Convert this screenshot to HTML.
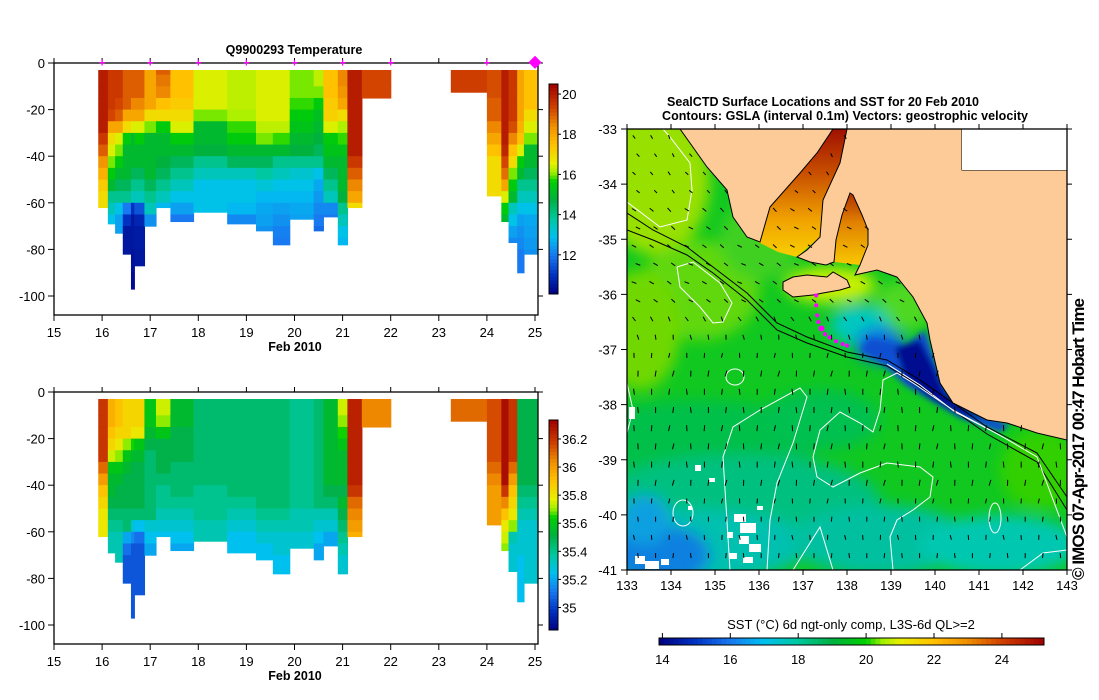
<!DOCTYPE html>
<html><head><meta charset="utf-8"><style>
html,body{margin:0;padding:0;background:#fff;}
svg{display:block;font-family:"Liberation Sans",sans-serif;}
.t{font-size:13px;fill:#000;}
.b{font-size:12.5px;font-weight:bold;fill:#000;}
</style></head><body>
<svg id="s" width="1099" height="700" viewBox="0 0 1099 700" xmlns="http://www.w3.org/2000/svg">
<defs>
<clipPath id="mapclip"><rect x="627" y="129" width="440" height="441"/></clipPath>
<filter id="blur" x="-20%" y="-20%" width="140%" height="140%"><feGaussianBlur stdDeviation="7"/></filter>
<filter id="blur2"><feGaussianBlur stdDeviation="3"/></filter>
<linearGradient id="spencer" x1="0" y1="0" x2="0" y2="1"><stop offset="0" stop-color="#a01000"/><stop offset="0.35" stop-color="#c85000"/><stop offset="0.7" stop-color="#f0a000"/><stop offset="1" stop-color="#f8d000"/></linearGradient>
<linearGradient id="gsv" x1="0" y1="0" x2="0" y2="1"><stop offset="0" stop-color="#b03000"/><stop offset="0.4" stop-color="#e08000"/><stop offset="1" stop-color="#f8c800"/></linearGradient>
</defs>
<g id="secT"></g>
<g id="secS"></g>
<g id="map"></g>
</svg>
<script>
const colStart = [15.92,16.12,16.27,16.43,16.6,16.67,16.88,17.12,17.42,17.9,18.6,19.2,19.55,19.9,20.4,20.6,20.9,21.1,21.4,23.25,24.0,24.3,24.45,24.63,24.77];
const colEnd   = [16.12,16.27,16.43,16.6,16.67,16.88,17.12,17.42,17.9,18.6,19.2,19.55,19.9,20.4,20.6,20.9,21.1,21.4,22.0,24.0,24.3,24.45,24.63,24.77,25.05];
const colBottom= [62,69,73,82,97,87,70,62,68,64,69,72,78,67,72,66,78,62,15,12.5,57,68,77,90,82];
const tempProfiles = [
[20,20,20,20,20,20,19.5,19,18.3,17.8,17.3,17,17],
[19.5,19.5,19.5,19.5,19.3,18,17,16.5,16,15.5,15,14,13.5,13],
[19.5,19.5,19.5,19.3,19,18,16.5,16,15.5,15,14.5,14,13,12.5,12.5],
[19,19,19,19,18,17,15.5,15,15,15,14.5,14,12,11,10.5,10.5,10.5],
[19,19,19,18.5,18,16.5,15,15,15,14.5,14,13.5,11,10.5,10.5,10.5,10.4,10.4,10.3,10.3],
[19,19,19,18.5,18,16.5,15.5,15,15,14.5,14,13.5,11.5,10.8,10.6,10.6,10.5,10.5],
[18,18,18,18,17,16,15,15,15,15,14.5,14,13.5,12.3],
[19,18.7,18.5,17.5,17,15.5,15,15,14.8,14.5,14,13.5,12.8],
[17.5,17.5,17.5,17.3,17,16.5,15.5,15,14.5,14,13.5,13,12.5,12],
[16.5,16.5,16.5,16.5,16,15,15,14.8,14,13.5,13,13,13],
[16.3,16.3,16.3,16.3,16.2,15.8,15.5,15,14.5,13.5,13,13,12.8,12.2],
[16.5,16.5,16.5,16.5,16.5,16.3,16,15,14.5,13.8,13.2,12.8,12.6,12.5,12.3],
[16.5,16.5,16.5,16.5,16.5,16.3,15.8,15,14,13.5,13,12.8,12.5,12.3,12.1,12],
[16,16,16,15.8,15.5,15.3,15,14.8,14,13.3,13,12.8,12.6,12.5],
[16.3,16.3,16,15.5,15.2,15,14.8,14.5,14,13,12.6,12.4,12.2,12,11.8],
[17.5,17.5,17.5,17.3,17.2,16.5,15.5,15.3,15,14.5,14,13.5,12.2,12],
[18.5,18.5,18.3,18,17,16.2,15.8,15.3,15,15,15,14.8,14,13.5,13,12.8],
[20,20,20,20,20,20,20,20,19.5,19,18.5,18,17],
[19.3,19.3,19.3],
[19.4,19.4,19.4],
[19.2,19.2,19.2,19,19,18.5,18,17.5,17,17,17,17],
[20,20,20,20,20,20,20,19.8,19.3,18.8,18,16.5,15.5,15],
[19.5,19.5,19.5,19.5,19.5,19.2,18.5,17.5,17,16,15.5,15,13.5,13,12.5,12.2],
[18,18,18,18,18,17.8,17.5,16.5,15.5,15,14,13.5,13,12.5,12.3,12.2,12,12],
[17.5,17.5,17.5,17.5,17,16.5,16,15,15,14.5,14,13.5,13,12.6,12.5,12.4,12.3]
];
const salProfiles = [
[36.2,36.2,36.2,36.2,36.2,36.2,36.1,36.0,35.9,35.85,35.8,35.8,35.8],
[35.95,35.95,35.95,35.9,35.85,35.75,35.6,35.55,35.55,35.5,35.45,35.4,35.35,35.35],
[35.9,35.9,35.9,35.85,35.8,35.7,35.6,35.55,35.5,35.5,35.45,35.4,35.35,35.35,35.35],
[35.85,35.85,35.85,35.85,35.7,35.6,35.55,35.5,35.5,35.5,35.45,35.45,35.2,35.1,35.05,35.05,35.05],
[35.85,35.85,35.85,35.8,35.65,35.55,35.5,35.5,35.5,35.5,35.45,35.3,35.15,35.05,35.05,35.05,35.05,35.05,35.05,35.05],
[35.85,35.85,35.85,35.8,35.6,35.55,35.5,35.5,35.5,35.5,35.45,35.25,35.1,35.05,35.05,35.05,35.05,35.05],
[35.6,35.6,35.6,35.55,35.5,35.45,35.45,35.45,35.45,35.45,35.45,35.3,35.25,35.2],
[35.75,35.75,35.7,35.6,35.5,35.5,35.5,35.45,35.4,35.4,35.35,35.3,35.25],
[35.55,35.55,35.55,35.5,35.5,35.5,35.45,35.45,35.45,35.4,35.35,35.3,35.25,35.2],
[35.45,35.45,35.45,35.45,35.45,35.45,35.45,35.45,35.4,35.4,35.4,35.35,35.35],
[35.45,35.45,35.45,35.45,35.45,35.45,35.45,35.45,35.45,35.4,35.35,35.3,35.25,35.25],
[35.45,35.45,35.45,35.45,35.45,35.45,35.45,35.45,35.45,35.45,35.4,35.35,35.3,35.25,35.25],
[35.45,35.45,35.45,35.45,35.45,35.45,35.45,35.45,35.45,35.45,35.4,35.35,35.3,35.3,35.25,35.25],
[35.4,35.4,35.4,35.4,35.4,35.4,35.4,35.4,35.4,35.4,35.35,35.35,35.3,35.3],
[35.45,35.45,35.45,35.45,35.45,35.45,35.45,35.45,35.45,35.45,35.35,35.3,35.25,35.2,35.2],
[35.55,35.55,35.55,35.55,35.55,35.55,35.55,35.55,35.5,35.45,35.35,35.3,35.2,35.2],
[35.75,35.75,35.7,35.65,35.6,35.55,35.55,35.55,35.5,35.55,35.5,35.45,35.4,35.35,35.3,35.3],
[36.25,36.25,36.25,36.25,36.25,36.25,36.25,36.25,36.2,36.1,36.05,36.0,35.95],
[36.05,36.05,36.05],
[36.1,36.1,36.1],
[36.15,36.15,36.15,36.15,36.15,36.15,36.1,36.05,36.0,36.0,36.0,36.0],
[36.3,36.3,36.3,36.3,36.3,36.3,36.3,36.3,36.2,36.05,35.9,35.8,35.75,35.7],
[36.2,36.2,36.2,36.2,36.2,36.2,36.1,36.0,35.9,35.85,35.8,35.7,35.35,35.3,35.3,35.3],
[35.5,35.5,35.5,35.5,35.5,35.5,35.5,35.5,35.45,35.4,35.35,35.3,35.3,35.3,35.25,35.25,35.25,35.25],
[35.5,35.5,35.5,35.5,35.5,35.5,35.5,35.5,35.45,35.4,35.35,35.3,35.3,35.3,35.3,35.3,35.3]
];
const dayTicks = [15,16,17,18,19,20,21,22,23,24,25];
const depthTicks = [0,20,40,60,80,100];
const profileDays = [16,17,18,19,20,21,22,24,25];
const tempTicks = [12,14,16,18,20];
const salTicks = [35,35.2,35.4,35.6,35.8,36,36.2];
const sstTicks = [14,16,18,20,22,24];
const lonTicks = [133,134,135,136,137,138,139,140,141,142,143];
const latTicks = [-33,-34,-35,-36,-37,-38,-39,-40,-41];
const trackLon = [137.3,137.3,137.32,137.35,137.42,137.5,137.6,137.75,137.9,138.0];
const trackLat = [-36.02,-36.2,-36.38,-36.5,-36.62,-36.72,-36.78,-36.85,-36.9,-36.93];
const vecRowAngle = [60,55,50,45,40,35,35,30,30,35,60,80,95,-80,-90,90,95,-85,90,100,95,90,85,90];
const vecRowLen   = [4,4,4,4,5,5,5,5,5,5,5,5,5,6,6,6,6,6,6,6,5,5,5,5];

const NS="http://www.w3.org/2000/svg";
function mk(tag,attrs,parent,txt){const e=document.createElementNS(NS,tag);for(const k in attrs)e.setAttribute(k,attrs[k]);if(txt!==undefined)e.textContent=txt;parent.appendChild(e);return e;}
const cmapStops=[[0,[0,0,128]],[0.09,[0,48,192]],[0.185,[24,120,240]],[0.273,[0,192,240]],[0.36,[0,200,160]],[0.45,[0,176,64]],[0.538,[0,208,0]],[0.58,[160,240,0]],[0.626,[232,240,0]],[0.714,[255,192,0]],[0.80,[240,144,0]],[0.89,[208,64,0]],[1,[160,0,0]]];
function cmap(f){f=Math.max(0,Math.min(1,f));for(let i=1;i<cmapStops.length;i++){if(f<=cmapStops[i][0]){const a=cmapStops[i-1],b=cmapStops[i];const t=(f-a[0])/(b[0]-a[0]);const c=a[1].map((v,j)=>Math.round(v+(b[1][j]-v)*t));return `rgb(${c[0]},${c[1]},${c[2]})`;}}return 'rgb(160,0,0)';}

const X=d=>54+(d-15)*48.1;
function drawSection(g,top,profiles,vmin,vmax,cb,ticks,fmt,title,isT){
  const Y=z=>top+z*2.33;
  for(let c=0;c<colStart.length;c++){
    const p=profiles[c];
    for(let i=0;i<p.length;i++){
      const z0=Math.max(3,i*5), z1=Math.min(colBottom[c],i*5+5);
      if(z1<=z0)continue;
      const r=mk('rect',{x:X(colStart[c]).toFixed(2),y:Y(z0).toFixed(2),width:(X(colEnd[c])-X(colStart[c])+0.6).toFixed(2),height:(Y(z1)-Y(z0)+0.6).toFixed(2),fill:cmap((p[i]-vmin)/(vmax-vmin))},g);
      
      
    }
  }
  const fr=mk('rect',{x:54,y:top,width:484,height:252,fill:'none',stroke:'#000','stroke-width':1.3},g);
  
  dayTicks.forEach(d=>{
    mk('line',{x1:X(d),x2:X(d),y1:top+252,y2:top+258,stroke:'#000'},g);
    mk('line',{x1:X(d),x2:X(d),y1:top,y2:top-5,stroke:'#000'},g);
    const t=mk('text',{x:X(d),y:top+274,'text-anchor':'middle',class:'t'},g,String(d));
    
  });
  depthTicks.forEach(z=>{
    mk('line',{x1:48,x2:54,y1:Y(z),y2:Y(z),stroke:'#000'},g);
    mk('line',{x1:538,x2:543,y1:Y(z),y2:Y(z),stroke:'#000'},g);
    const t=mk('text',{x:45,y:Y(z)+5,'text-anchor':'end',class:'t'},g,z===0?'0':String(-z));
    
  });
  const xl=mk('text',{x:295,y:top+288,'text-anchor':'middle',class:'b'},g,'Feb 2010');
  
  if(title){const tt=mk('text',{x:294,y:54,'text-anchor':'middle',class:'b'},g,title);}
  if(isT){profileDays.forEach(d=>{const m=mk('text',{x:X(d),y:top+3.5,'text-anchor':'middle','font-size':d===25?16:11,'font-weight':'bold',fill:'#ff00ff'},g,d===25?'◆':'+');});}
  const n=60;for(let i=0;i<n;i++){const y=cb.y1-(i+1)*(cb.y1-cb.y0)/n;mk('rect',{x:549,y:y.toFixed(2),width:9,height:((cb.y1-cb.y0)/n+0.5).toFixed(2),fill:cmap((i+0.5)/n)},g);}
  const cbf=mk('rect',{x:549,y:cb.y0,width:9,height:cb.y1-cb.y0,fill:'none',stroke:'#000'},g);
  
  ticks.forEach(v=>{const y=cb.y1-(v-vmin)/(vmax-vmin)*(cb.y1-cb.y0);mk('line',{x1:558,x2:561,y1:y,y2:y,stroke:'#000'},g);const t=mk('text',{x:562,y:y+5,class:'t'},g,fmt(v));});
}
drawSection(document.getElementById('secT'),63,tempProfiles,10.05,20.5,{y0:84,y1:294},tempTicks,v=>String(v),'Q9900293  Temperature',true);
drawSection(document.getElementById('secS'),392,salProfiles,34.84,36.335,{y0:420,y1:630},salTicks,v=>String(+v.toFixed(1)),null,false);

const MX=lon=>627+(lon-133)*44, MY=lat=>129+(-33-lat)*55.125;
const map=document.getElementById('map');
const mg=mk('g',{'clip-path':'url(#mapclip)'},map);
mk('rect',{x:627,y:129,width:440,height:441,fill:'#10c820'},mg);
const blobs=mk('g',{filter:'url(#blur)'},mg);
[[655,180,55,75,'#98e000'],[700,290,60,50,'#60d810'],[760,240,40,40,'#40d020'],[640,330,40,60,'#70d800'],
 [700,440,120,40,'#00c048'],[740,500,140,45,'#00c080'],[700,545,110,35,'#00c0b0'],[660,555,50,30,'#1080e0'],[645,520,25,25,'#10a0e0'],
 [880,540,90,35,'#00c0a0'],[1000,545,80,30,'#00c8b0'],[1040,470,40,40,'#30d000'],[820,420,60,30,'#00c050'],
 [830,285,45,18,'#c8f000'],[905,305,30,25,'#50d820'],[860,325,30,20,'#00c8c0'],[880,345,25,18,'#1070e0']].forEach(b=>mk('ellipse',{cx:b[0],cy:b[1],rx:b[2],ry:b[3],fill:b[4]},blobs));
const up=mk('g',{filter:'url(#blur2)'},mg);
mk('polygon',{points:'870,338 905,345 925,330 935,360 950,395 975,412 1010,425 1000,432 960,418 930,400 905,385 880,362 860,350',fill:'#1050d0'},up);
mk('polygon',{points:'895,348 920,340 933,365 945,392 965,408 990,420 960,415 930,398 905,378',fill:'#000890'},up);
[[740,518,6,4],[748,528,8,5],[744,540,5,4],[755,548,6,4],[733,556,4,3],[748,560,5,3],[640,560,5,4],[652,565,7,4],[665,562,4,3],[632,413,3,6],[698,468,3,3],[690,508,2,2],[712,480,3,2],[760,508,3,2],[730,535,3,3]].forEach(b=>{const e=mk('rect',{x:b[0]-b[2],y:b[1]-b[3],width:b[2]*2,height:b[3]*2,fill:'#fff'},mg);});
mk('polygon',{points:'758,242 770,207 800,173 817,153 833,129 847,129 840,163 823,200 820,237 797,257 778,252',fill:'url(#spencer)'},mg);
mk('polygon',{points:'834,262 836,240 842,215 850,193 853,195 862,215 868,230 868,245 860,265',fill:'url(#gsv)'},mg);
const landA=[[680,129],[707,167],[727,190],[733,217],[747,237],[760,242],[770,207],[800,173],[817,153],[833,129]];
const landB=[[847,129],[840,163],[823,200],[820,237],[807,250],[797,257],[810,262],[826,265],[834,262],[836,240],[842,215],[850,193],[853,195],[862,215],[868,230],[868,245],[860,265],[855,275],[877,270],[897,277],[913,297],[927,323],[930,340],[940,383],[953,403],[987,420],[1007,423],[1037,433],[1067,440],[1067,170],[962,170],[962,129]];
const landK=[[783,282],[793,277],[807,275],[827,277],[833,272],[847,280],[850,287],[840,290],[823,293],[813,295],[793,297],[783,290]];
[landA,landB,landK].forEach((L,i)=>{const p=mk('polygon',{points:L.map(q=>q.join(',')).join(' '),fill:'#fdcb97',stroke:'#000','stroke-width':1},mg);});
mk('rect',{x:962,y:129,width:105,height:41,fill:'#fff'},mg);
function inPoly(x,y,P){let c=false;for(let i=0,j=P.length-1;i<P.length;j=i++){const [xi,yi]=P[i],[xj,yj]=P[j];if(((yi>y)!=(yj>y))&&(x<(xj-xi)*(y-yi)/(yj-yi)+xi))c=!c;}return c;}
const bath1='627,213 653,230 687,247 713,267 747,293 777,323 807,337 847,352 887,360 920,380 953,403 987,427 1037,453 1067,497';
const bath2='627,230 653,240 687,255 713,273 747,300 777,330 807,343 847,357 887,366 920,386 953,410 987,434 1037,462 1067,510';
[bath1,bath2].forEach(p=>{const l=mk('polyline',{points:p,fill:'none',stroke:'#000','stroke-width':1},mg);});
['627,202 660,227 687,220 692,190 690,163 670,137 663,129','677,267 693,262 720,283 732,303 723,322 713,323 700,307 680,287 677,267',
 '730,570 723,457 733,427 760,410 800,388 807,397 793,443 777,483 770,520 767,570',
 '813,457 820,430 840,412 860,423 873,432 880,410 883,380 897,373 913,383 953,410 1003,437 1037,457 1067,537',
 '813,457 817,477 833,487 860,473 887,463 920,467 933,477 930,497 913,510 897,520 890,537 893,570',
 '793,570 820,527 833,570','1067,550 1043,553 1020,570','627,383 633,410 627,433','887,364 920,385 955,412 990,430'].forEach(p=>{const l=mk('polyline',{points:p,fill:'none',stroke:'#fff','stroke-width':1},mg);});
[[735,377,9,8],[683,513,10,13],[995,518,6,15]].forEach(e=>{const c=mk('ellipse',{cx:e[0],cy:e[1],rx:e[2],ry:e[3],fill:'none',stroke:'#fff'},mg);});
for(let r=0;r<vecRowAngle.length;r++){
  const y=137+r*18.2;
  for(let c=0;c<25;c++){
    const x=634+c*17.6+(r%2)*4;
    if(inPoly(x,y,landA)||inPoly(x,y,landB)||inPoly(x,y,landK)||(x>962&&y<170))continue;
    const a=(vecRowAngle[r]+((c%3)-1)*8)*Math.PI/180, L=vecRowLen[r];
    const v=mk('line',{x1:(x-Math.cos(a)*L/2).toFixed(1),y1:(y-Math.sin(a)*L/2).toFixed(1),x2:(x+Math.cos(a)*L/2).toFixed(1),y2:(y+Math.sin(a)*L/2).toFixed(1),stroke:'#000','stroke-width':1},mg);
    
    
  }
}
for(let i=0;i<trackLon.length;i++){const d=mk('circle',{cx:MX(trackLon[i]),cy:MY(trackLat[i]),r:i===4?3:2,fill:'#ff00ff'},mg);}
const mf=mk('rect',{x:627,y:129,width:440,height:441,fill:'none',stroke:'#000','stroke-width':1.3},map);

lonTicks.forEach(l=>{mk('line',{x1:MX(l),x2:MX(l),y1:570,y2:575,stroke:'#000'},map);mk('line',{x1:MX(l),x2:MX(l),y1:129,y2:124,stroke:'#000'},map);const t=mk('text',{x:MX(l),y:590,'text-anchor':'middle',class:'t'},map,String(l));});
latTicks.forEach(l=>{mk('line',{x1:621,x2:627,y1:MY(l),y2:MY(l),stroke:'#000'},map);mk('line',{x1:1067,x2:1072,y1:MY(l),y2:MY(l),stroke:'#000'},map);const t=mk('text',{x:617,y:MY(l)+5,'text-anchor':'end',class:'t'},map,String(l));});
const t1=mk('text',{x:823,y:106,'text-anchor':'middle',class:'b',textLength:312},map,'SealCTD Surface Locations and SST for 20 Feb 2010');

const t2=mk('text',{x:845,y:120,'text-anchor':'middle',class:'b',textLength:366},map,'Contours: GSLA (interval 0.1m) Vectors: geostrophic velocity');

const rt=mk('text',{x:0,y:0,'font-size':'17px','font-weight':'bold',transform:'translate(1084,580) rotate(-90)',textLength:282},map,'© IMOS 07-Apr-2017 00:47 Hobart Time');

const sMin=13.9,sMax=25.24,CX=v=>659+(v-sMin)/(sMax-sMin)*385;
for(let i=0;i<80;i++){mk('rect',{x:(659+i*385/80).toFixed(2),y:638,width:(385/80+0.5).toFixed(2),height:7,fill:cmap((i+0.5)/80)},map);}
const sb=mk('rect',{x:659,y:638,width:385,height:7,fill:'none',stroke:'#000'},map);

sstTicks.forEach(v=>{mk('line',{x1:CX(v),x2:CX(v),y1:633,y2:638,stroke:'#000'},map);const t=mk('text',{x:CX(v),y:664,'text-anchor':'middle',class:'t'},map,String(v));});
const ct=mk('text',{x:851,y:629,'text-anchor':'middle',class:'t'},map,'SST (°C) 6d ngt-only comp, L3S-6d QL>=2');

</script>
</body></html>
